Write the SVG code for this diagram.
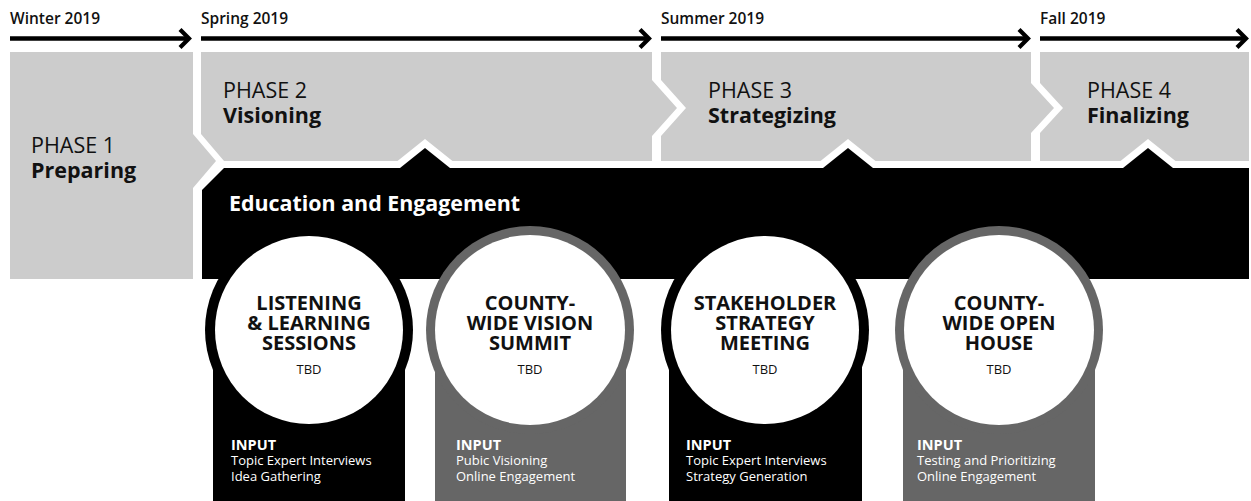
<svg xmlns="http://www.w3.org/2000/svg" width="1251" height="501" viewBox="0 0 1251 501">
<defs>
<marker id="chev" viewBox="0 0 14 22" refX="11" refY="11" markerWidth="14" markerHeight="22" markerUnits="userSpaceOnUse" orient="auto">
<path d="M2,2 L11,11 L2,20" fill="none" stroke="#000" stroke-width="4.2"/>
</marker>
<style>
text{font-family:"Open Sans","Liberation Sans",sans-serif;fill:#111}
.season{font-size:15.5px;font-weight:600}
.ph{font-size:21.5px;font-weight:500}
.phb{font-size:21.5px;font-weight:700}
.gray{fill:#cccccc}
.bar{fill:#000;stroke:#fff;stroke-width:14;paint-order:stroke;stroke-linejoin:miter;stroke-miterlimit:10}
.edu{font-size:21.4px;font-weight:700;fill:#fff}
.ct{font-size:20px;font-weight:700;text-anchor:middle}
.tbd{font-size:13px;text-anchor:middle}
.inh{font-size:14.5px;font-weight:700;fill:#fff}
.inl{font-size:13px;fill:#fff}
.arrow{fill:none;stroke:#000;stroke-width:4.5;marker-end:url(#chev)}
</style>
</defs>
<rect width="1251" height="501" fill="#fff"/>

<g id="timeline-labels">
<text class="season" x="10" y="24">Winter 2019</text>
<text class="season" x="201" y="24">Spring 2019</text>
<text class="season" x="661" y="24">Summer 2019</text>
<text class="season" x="1040" y="24">Fall 2019</text>
</g>

<g id="connectors">
<path class="arrow" d="M10,38.5 H189"/>
<path class="arrow" d="M201,38.5 H649"/>
<path class="arrow" d="M661,38.5 H1028"/>
<path class="arrow" d="M1040,38.5 H1246"/>
</g>

<g id="phase1">
<polygon class="gray" points="10,52 193,52 193,134 216,161 193,188 193,279 10,279"/>
<text class="ph" x="31" y="153">PHASE 1</text>
<text class="phb" x="31" y="178">Preparing</text>
</g>
<g id="phase2">
<polygon class="gray" points="201,52 652,52 652,80 677,108 652,136 652,168 230,168 201,134"/>
<text class="ph" x="223" y="98">PHASE 2</text>
<text class="phb" x="223" y="123">Visioning</text>
</g>
<g id="phase3">
<polygon class="gray" points="661,52 1031,52 1031,83 1054,108 1031,133 1031,168 661,168 661,136 686,108 661,80"/>
<text class="ph" x="708" y="98">PHASE 3</text>
<text class="phb" x="708" y="123">Strategizing</text>
</g>
<g id="phase4">
<polygon class="gray" points="1040,52 1249,52 1249,168 1040,168 1040,133 1063,108 1040,83"/>
<text class="ph" x="1087" y="98">PHASE 4</text>
<text class="phb" x="1087" y="123">Finalizing</text>
</g>

<g id="education-engagement">
<polygon class="bar" points="202,279 202,190 224,168 400,168 425,148 450,168 823,168 848,148 873,168 1123,168 1148,148 1173,168 1249,168 1249,279"/>
<text class="edu" x="229" y="211">Education and Engagement</text>
</g>

<g id="event1">
<rect x="213" y="330" width="192" height="171" fill="#000"/>
<circle cx="309" cy="330" r="104" fill="#000"/>
<circle cx="309" cy="330" r="94" fill="#fff"/>
<text class="ct" x="309" y="310">LISTENING</text>
<text class="ct" x="309" y="330">&amp; LEARNING</text>
<text class="ct" x="309" y="350">SESSIONS</text>
<text class="tbd" x="309" y="374">TBD</text>
<text class="inh" x="231" y="450">INPUT</text>
<text class="inl" x="231" y="465">Topic Expert Interviews</text>
<text class="inl" x="231" y="481">Idea Gathering</text>
</g>

<g id="event2">
<rect x="435" y="330" width="191" height="171" fill="#666"/>
<circle cx="530" cy="330" r="104" fill="#666"/>
<circle cx="530" cy="330" r="95" fill="#fff"/>
<text class="ct" x="530" y="310">COUNTY-</text>
<text class="ct" x="530" y="330">WIDE VISION</text>
<text class="ct" x="530" y="350">SUMMIT</text>
<text class="tbd" x="530" y="374">TBD</text>
<text class="inh" x="456" y="450">INPUT</text>
<text class="inl" x="456" y="465">Pubic Visioning</text>
<text class="inl" x="456" y="481">Online Engagement</text>
</g>

<g id="event3">
<rect x="669" y="330" width="193" height="171" fill="#000"/>
<circle cx="765" cy="330" r="104" fill="#000"/>
<circle cx="765" cy="330" r="94" fill="#fff"/>
<text class="ct" x="765" y="310">STAKEHOLDER</text>
<text class="ct" x="765" y="330">STRATEGY</text>
<text class="ct" x="765" y="350">MEETING</text>
<text class="tbd" x="765" y="374">TBD</text>
<text class="inh" x="686" y="450">INPUT</text>
<text class="inl" x="686" y="465">Topic Expert Interviews</text>
<text class="inl" x="686" y="481">Strategy Generation</text>
</g>

<g id="event4">
<rect x="903" y="330" width="192" height="171" fill="#666"/>
<circle cx="999" cy="330" r="104" fill="#666"/>
<circle cx="999" cy="330" r="95" fill="#fff"/>
<text class="ct" x="999" y="310">COUNTY-</text>
<text class="ct" x="999" y="330">WIDE OPEN</text>
<text class="ct" x="999" y="350">HOUSE</text>
<text class="tbd" x="999" y="374">TBD</text>
<text class="inh" x="917" y="450">INPUT</text>
<text class="inl" x="917" y="465">Testing and Prioritizing</text>
<text class="inl" x="917" y="481">Online Engagement</text>
</g>
</svg>
